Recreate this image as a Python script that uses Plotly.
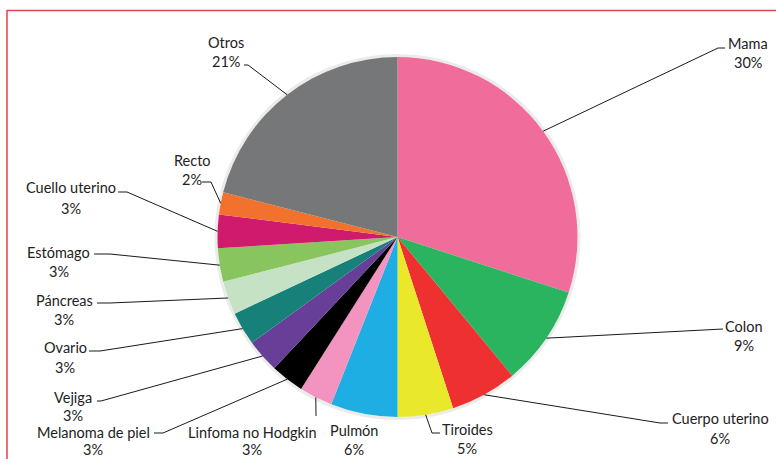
import math
import plotly.graph_objects as go

# ---- data ----
categories = ["Mama", "Colon", "Cuerpo uterino", "Tiroides", "Pulmón",
              "Linfoma no Hodgkin", "Melanoma de piel", "Vejiga", "Ovario",
              "Páncreas", "Estómago", "Cuello uterino", "Recto", "Otros"]
percentages = [30, 9, 6, 5, 6, 3, 3, 3, 3, 3, 3, 3, 2, 21]
colors = ["#F06C9B", "#2BB460", "#EE3030", "#EAE82A", "#1EAEE4", "#F393BF",
          "#000000", "#673F98", "#168079", "#C5E2C4", "#88C55F", "#CF1A6D",
          "#F2712C", "#757779"]

# ---- layout (pixel positions of label text and leader elbows) ----
W, H = 776, 459
CX, CY, R = 397.5, 237.0, 180.0
# (x, name y, percent y)
label_pos = [(748, 44, 63), (744, 326, 345), (720, 418, 438), (467, 429, 448),
             (354, 430, 449), (252, 432, 449), (93, 432, 449), (73, 397, 415),
             (65, 347, 367), (64, 300, 319), (59, 252, 271), (71, 188, 208),
             (192, 161, 180), (226, 42, 61)]
leader_pts = [[(718, 48), (725, 48)], [(723, 329)], [(660, 423), (668, 423)],
              [(432, 433), (440, 433)], [], [(316, 416)],
              [(163, 433), (154, 433)], [(101, 401), (97, 401)],
              [(100, 351), (89, 351)], [(110, 303), (97, 303)],
              [(110, 254), (94, 254)], [(127, 192), (118, 192)],
              [(211, 182), (202, 182)], [(248, 65), (244, 65)]]


def px(x):
    return x / W


def py(y):
    return 1 - y / H


fig = go.Figure(go.Pie(
    labels=categories, values=percentages, sort=False, direction="clockwise",
    rotation=0, marker=dict(colors=colors, line=dict(width=0)),
    textinfo="none", hoverinfo="label+percent", showlegend=False,
    domain=dict(x=[px(CX - R), px(CX + R)], y=[py(CY + R), py(CY - R)]),
))

shapes = []
# subtle shadow ring
shapes.append(dict(type="circle", xref="paper", yref="paper",
                   x0=px(CX - R - 1.5), x1=px(CX + R + 1.5),
                   y0=py(CY + R + 1.5), y1=py(CY - R - 1.5),
                   line=dict(color="rgba(0,0,0,0.08)", width=3), layer="below"))
# border
shapes.append(dict(type="path", xref="paper", yref="paper",
                   path=f"M {px(7)} {py(470)} L {px(7)} {py(10.5)} L {px(790)} {py(10.5)}",
                   line=dict(color="#E0454B", width=1.5)))

annotations = []
total = sum(percentages)
cum = 0
for name, val, (lx, ly, ly2), pts in zip(categories, percentages, label_pos, leader_pts):
    mid = (cum + val / 2) / total * 2 * math.pi
    cum += val
    ex = CX + R * math.sin(mid)
    ey = CY - R * math.cos(mid)
    if pts:
        path = f"M {px(ex)} {py(ey)}" + "".join(f" L {px(x)} {py(y)}" for x, y in pts)
        shapes.append(dict(type="path", xref="paper", yref="paper", path=path,
                           line=dict(color="#1a1a1a", width=1)))
    for txt, yy in ((name, ly), (f"{val}%", ly2)):
        annotations.append(dict(text=txt, x=px(lx), y=py(yy), xref="paper",
                                yref="paper", xanchor="center", yanchor="middle",
                                showarrow=False,
                                font=dict(family="Lato", size=14.5, color="#222222")))

fig.update_layout(width=W, height=H, margin=dict(l=0, r=0, t=0, b=0),
                  paper_bgcolor="white", plot_bgcolor="white",
                  shapes=shapes, annotations=annotations)
fig.write_html("out.html", config={"displayModeBar": False},
               post_script="document.body.style.margin='0';document.body.style.overflow='hidden';")
